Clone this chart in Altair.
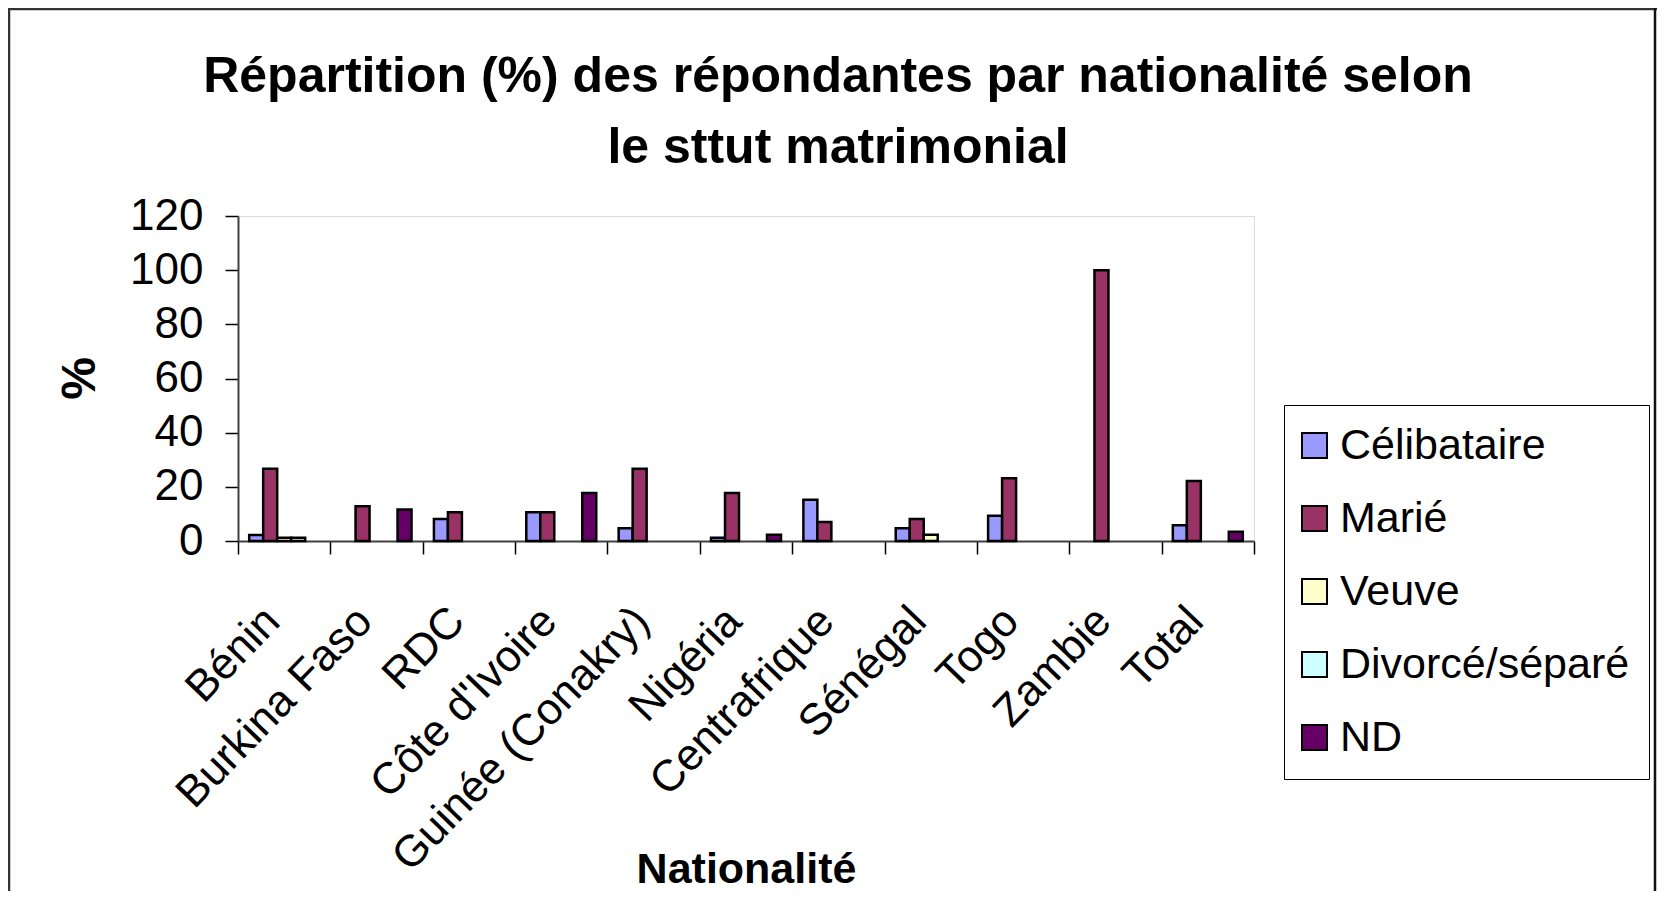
import altair as alt
import pandas as pd

categories = ["Bénin", "Burkina Faso", "RDC", "Côte d'Ivoire", "Guinée (Conakry)",
              "Nigéria", "Centrafrique", "Sénégal", "Togo", "Zambie", "Total"]
series = ["Célibataire", "Marié", "Veuve", "Divorcé/séparé", "ND"]

celibataire = [2.2, 0, 8.1, 10.6, 4.7, 1.2, 15.2, 4.7, 9.3, 0, 5.8]
marie = [26.7, 12.8, 10.6, 10.6, 26.7, 17.7, 7.0, 8.1, 23.2, 100, 22.2]
veuve = [1.2, 0, 0, 0, 0, 0, 0, 2.3, 0, 0, 0]
divorce = [1.2, 0, 0, 0, 0, 0, 0, 0, 0, 0, 0]
nd = [0, 11.6, 0, 17.7, 0, 2.3, 0, 0, 0, 0, 3.4]

colors = ["#9999FF", "#993366", "#FFFFCC", "#CCFFFF", "#660066"]
y_ticks = [0, 20, 40, 60, 80, 100, 120]

rows = []
for s, vals in zip(series, [celibataire, marie, veuve, divorce, nd]):
    for c, v in zip(categories, vals):
        if v > 0:
            rows.append({"Nationalité": c, "Statut": s, "Pourcentage": v})
df = pd.DataFrame(rows)

FONT = "Liberation Sans"

bars = alt.Chart(df).mark_bar(stroke="black", strokeWidth=2.5).encode(
    x=alt.X("Nationalité:N", sort=categories,
            scale=alt.Scale(paddingInner=0, paddingOuter=0),
            axis=alt.Axis(title="Nationalité", labelAngle=-46, labelFont=FONT,
                          labelFontSize=44, labelColor="black", labelAlign="right",
                          labelBaseline="middle", labelPadding=60, labelOffset=-12,
                          labelLimit=0, labelOverlap=False,
                          tickBand="extent", tickSize=13, tickColor="black", tickWidth=1.5,
                          domainColor="#404040", domainWidth=2,
                          titleFont=FONT, titleFontSize=43, titleFontWeight="bold",
                          titleColor="black", titleX=508, titleY=341,
                          titleBaseline="alphabetic", titleAlign="center")),
    xOffset=alt.XOffset("Statut:N", sort=series,
                        scale=alt.Scale(domain=series, paddingInner=0, paddingOuter=0.8)),
    y=alt.Y("Pourcentage:Q", scale=alt.Scale(domain=[0, 120], nice=False),
            axis=alt.Axis(title="%", values=y_ticks, grid=False, labelFont=FONT,
                          labelFontSize=44, labelColor="black", labelPadding=22,
                          tickSize=13, tickColor="black", tickWidth=1.5,
                          domainColor="#404040", domainWidth=2,
                          titleFont=FONT, titleFontSize=48, titleFontWeight="bold",
                          titleColor="black", titleX=-158, titleY=162,
                          titleAlign="center", titleBaseline="middle", titleAngle=-90)),
    color=alt.Color("Statut:N", sort=series,
                    scale=alt.Scale(domain=series, range=colors),
                    legend=alt.Legend(title=None, orient="none", legendX=1046, legendY=189,
                                      strokeColor="black", padding=19,
                                      symbolType="square", symbolSize=625, symbolOffset=-10,
                                      symbolStrokeColor="black", symbolStrokeWidth=2,
                                      labelFont=FONT, labelFontSize=43, labelColor="black",
                                      labelOffset=4, labelLimit=0, rowPadding=29)),
)

frame_df = pd.DataFrame({"k": [0]})
left_line = alt.Chart(frame_df).mark_rule(color="#333333", strokeWidth=2.5).encode(
    x=alt.value(-229), y=alt.value(-207), y2=alt.value(1000))
top_line = alt.Chart(frame_df).mark_rule(color="#333333", strokeWidth=2.5).encode(
    x=alt.value(-230), x2=alt.value(1419), y=alt.value(-207))
right_line = alt.Chart(frame_df).mark_rule(color="#111111", strokeWidth=2.5).encode(
    x=alt.value(1417), y=alt.value(-208), y2=alt.value(1000))

chart = alt.layer(bars, left_line, top_line, right_line).properties(
    width=1016, height=325,
    autosize=alt.AutoSizeParams(type="none"),
    padding={"left": 230, "top": 208, "right": 403, "bottom": 350},
    title=alt.Title(text=["Répartition (%) des répondantes par nationalité selon",
                          "le sttut matrimonial"],
                    font=FONT, fontSize=50, fontWeight="bold", color="black",
                    anchor="middle", dx=92, offset=-166, lineHeight=71, frame="group"),
).configure_view(stroke="#808080", strokeWidth=2).configure(background="white")

chart.save("out.html", embed_options={"renderer": "svg", "actions": False})
